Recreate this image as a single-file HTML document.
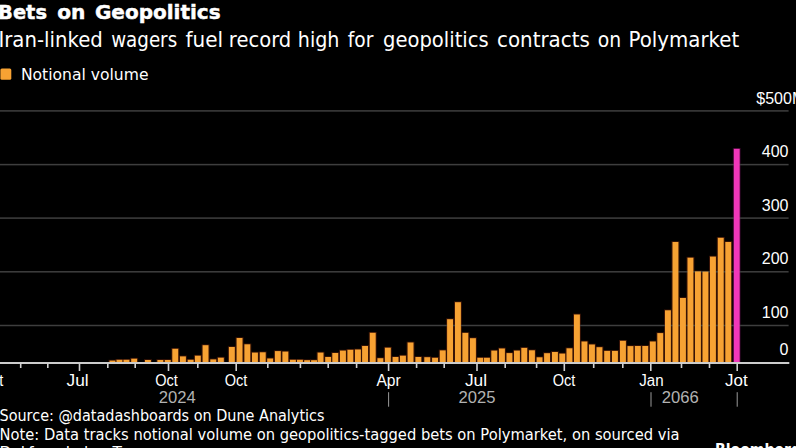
<!DOCTYPE html><html><head><meta charset="utf-8"><style>
html,body{margin:0;padding:0;background:#000;}
body{width:796px;height:448px;overflow:hidden;position:relative;}
svg{position:absolute;left:0;top:0;display:block;}
.t{font-family:"DejaVu Sans","Liberation Sans",sans-serif;fill:#fff;}
.l{font-family:"Liberation Sans","DejaVu Sans",sans-serif;fill:#fff;}
</style></head><body>
<svg width="796" height="448" viewBox="0 0 796 448">
<text class="t" x="-1.92" y="19.2" font-size="20.3" font-weight="bold" stroke="#fff" stroke-width="0.45" textLength="48.9" lengthAdjust="spacingAndGlyphs">Bets</text>
<text class="t" x="57.21" y="19.2" font-size="20.3" font-weight="bold" stroke="#fff" stroke-width="0.45" textLength="28.16" lengthAdjust="spacingAndGlyphs">on</text>
<text class="t" x="94.91" y="19.2" font-size="20.3" font-weight="bold" stroke="#fff" stroke-width="0.45" textLength="125.72" lengthAdjust="spacingAndGlyphs">Geopolitics</text>
<text class="t" x="-1.56" y="46.8" font-size="21.2" textLength="104.29" lengthAdjust="spacingAndGlyphs">Iran-linked</text>
<text class="t" x="111.14" y="46.8" font-size="21.2" textLength="66.03" lengthAdjust="spacingAndGlyphs">wagers</text>
<text class="t" x="185.5" y="46.8" font-size="21.2" textLength="37.61" lengthAdjust="spacingAndGlyphs">fuel</text>
<text class="t" x="228.86" y="46.8" font-size="21.2" textLength="62.4" lengthAdjust="spacingAndGlyphs">record</text>
<text class="t" x="297.8" y="46.8" font-size="21.2" textLength="41.69" lengthAdjust="spacingAndGlyphs">high</text>
<text class="t" x="347.8" y="46.8" font-size="21.2" textLength="25.64" lengthAdjust="spacingAndGlyphs">for</text>
<text class="t" x="382.98" y="46.8" font-size="21.2" textLength="105.7" lengthAdjust="spacingAndGlyphs">geopolitics</text>
<text class="t" x="496.96" y="46.8" font-size="21.2" textLength="92.92" lengthAdjust="spacingAndGlyphs">contracts</text>
<text class="t" x="597.81" y="46.8" font-size="21.2" textLength="23.44" lengthAdjust="spacingAndGlyphs">on</text>
<text class="t" x="628.53" y="46.8" font-size="21.2" textLength="110.7" lengthAdjust="spacingAndGlyphs">Polymarket</text>
<rect x="0.4" y="68.4" width="10.9" height="11.3" rx="1.5" fill="#f7a233"/>
<text class="t" x="20.9" y="80.1" font-size="16.2" textLength="127.6" lengthAdjust="spacingAndGlyphs">Notional volume</text>
<rect x="108.5" y="359.8" width="7.9" height="2.2" fill="#3a1406"/>
<rect x="115.5" y="359.0" width="7.9" height="3.0" fill="#3a1406"/>
<rect x="122.5" y="359.0" width="7.9" height="3.0" fill="#3a1406"/>
<rect x="130.2" y="357.9" width="7.9" height="4.1" fill="#3a1406"/>
<rect x="144.0" y="359.2" width="7.9" height="2.8" fill="#3a1406"/>
<rect x="156.4" y="359.2" width="7.9" height="2.8" fill="#3a1406"/>
<rect x="163.8" y="359.2" width="7.9" height="2.8" fill="#3a1406"/>
<rect x="171.3" y="348.0" width="7.9" height="14.0" fill="#3a1406"/>
<rect x="179.0" y="355.6" width="7.9" height="6.4" fill="#3a1406"/>
<rect x="186.7" y="359.0" width="7.9" height="3.0" fill="#3a1406"/>
<rect x="193.9" y="354.9" width="7.9" height="7.1" fill="#3a1406"/>
<rect x="201.6" y="344.4" width="7.9" height="17.6" fill="#3a1406"/>
<rect x="209.3" y="358.6" width="7.9" height="3.4" fill="#3a1406"/>
<rect x="216.9" y="356.9" width="7.9" height="5.1" fill="#3a1406"/>
<rect x="227.9" y="346.2" width="7.9" height="15.8" fill="#3a1406"/>
<rect x="235.6" y="337.2" width="7.9" height="24.8" fill="#3a1406"/>
<rect x="243.4" y="343.5" width="7.9" height="18.5" fill="#3a1406"/>
<rect x="251.0" y="351.8" width="7.9" height="10.2" fill="#3a1406"/>
<rect x="258.8" y="351.5" width="7.9" height="10.5" fill="#3a1406"/>
<rect x="266.2" y="357.7" width="7.9" height="4.3" fill="#3a1406"/>
<rect x="273.9" y="350.3" width="7.9" height="11.7" fill="#3a1406"/>
<rect x="281.4" y="350.8" width="7.9" height="11.2" fill="#3a1406"/>
<rect x="289.0" y="359.0" width="7.9" height="3.0" fill="#3a1406"/>
<rect x="296.0" y="359.0" width="7.9" height="3.0" fill="#3a1406"/>
<rect x="303.2" y="359.4" width="7.9" height="2.6" fill="#3a1406"/>
<rect x="310.1" y="359.4" width="7.9" height="2.6" fill="#3a1406"/>
<rect x="316.6" y="351.8" width="7.9" height="10.2" fill="#3a1406"/>
<rect x="324.2" y="356.2" width="7.9" height="5.8" fill="#3a1406"/>
<rect x="331.3" y="352.2" width="7.9" height="9.8" fill="#3a1406"/>
<rect x="339.0" y="349.8" width="7.9" height="12.2" fill="#3a1406"/>
<rect x="346.4" y="349.0" width="7.9" height="13.0" fill="#3a1406"/>
<rect x="354.0" y="348.7" width="7.9" height="13.3" fill="#3a1406"/>
<rect x="361.1" y="345.2" width="7.9" height="16.8" fill="#3a1406"/>
<rect x="368.8" y="332.0" width="7.9" height="30.0" fill="#3a1406"/>
<rect x="376.4" y="357.4" width="7.9" height="4.6" fill="#3a1406"/>
<rect x="383.9" y="346.9" width="7.9" height="15.1" fill="#3a1406"/>
<rect x="391.6" y="356.2" width="7.9" height="5.8" fill="#3a1406"/>
<rect x="399.0" y="354.9" width="7.9" height="7.1" fill="#3a1406"/>
<rect x="406.6" y="341.7" width="7.9" height="20.3" fill="#3a1406"/>
<rect x="414.4" y="356.2" width="7.9" height="5.8" fill="#3a1406"/>
<rect x="423.3" y="356.4" width="7.9" height="5.6" fill="#3a1406"/>
<rect x="431.1" y="357.0" width="7.9" height="5.0" fill="#3a1406"/>
<rect x="438.8" y="349.6" width="7.9" height="12.4" fill="#3a1406"/>
<rect x="446.1" y="318.4" width="7.9" height="43.6" fill="#3a1406"/>
<rect x="454.0" y="301.4" width="7.9" height="60.6" fill="#3a1406"/>
<rect x="461.4" y="332.1" width="7.9" height="29.9" fill="#3a1406"/>
<rect x="469.0" y="337.4" width="7.9" height="24.6" fill="#3a1406"/>
<rect x="476.3" y="357.0" width="7.9" height="5.0" fill="#3a1406"/>
<rect x="483.0" y="357.0" width="7.9" height="5.0" fill="#3a1406"/>
<rect x="490.3" y="349.8" width="7.9" height="12.2" fill="#3a1406"/>
<rect x="498.0" y="347.7" width="7.9" height="14.3" fill="#3a1406"/>
<rect x="505.5" y="352.3" width="7.9" height="9.7" fill="#3a1406"/>
<rect x="513.0" y="349.8" width="7.9" height="12.2" fill="#3a1406"/>
<rect x="520.3" y="347.1" width="7.9" height="14.9" fill="#3a1406"/>
<rect x="528.0" y="349.5" width="7.9" height="12.5" fill="#3a1406"/>
<rect x="535.6" y="356.5" width="7.9" height="5.5" fill="#3a1406"/>
<rect x="543.1" y="352.4" width="7.9" height="9.6" fill="#3a1406"/>
<rect x="551.0" y="351.2" width="7.9" height="10.8" fill="#3a1406"/>
<rect x="558.3" y="352.8" width="7.9" height="9.2" fill="#3a1406"/>
<rect x="565.5" y="347.5" width="7.9" height="14.5" fill="#3a1406"/>
<rect x="573.0" y="313.7" width="7.9" height="48.3" fill="#3a1406"/>
<rect x="580.5" y="340.7" width="7.9" height="21.3" fill="#3a1406"/>
<rect x="588.0" y="343.7" width="7.9" height="18.3" fill="#3a1406"/>
<rect x="595.5" y="346.4" width="7.9" height="15.6" fill="#3a1406"/>
<rect x="603.2" y="350.1" width="7.9" height="11.9" fill="#3a1406"/>
<rect x="611.0" y="350.1" width="7.9" height="11.9" fill="#3a1406"/>
<rect x="619.0" y="340.0" width="7.9" height="22.0" fill="#3a1406"/>
<rect x="626.5" y="345.3" width="7.9" height="16.7" fill="#3a1406"/>
<rect x="633.9" y="345.2" width="7.9" height="16.8" fill="#3a1406"/>
<rect x="641.3" y="345.2" width="7.9" height="16.8" fill="#3a1406"/>
<rect x="648.9" y="340.7" width="7.9" height="21.3" fill="#3a1406"/>
<rect x="656.3" y="332.3" width="7.9" height="29.7" fill="#3a1406"/>
<rect x="664.0" y="309.5" width="7.9" height="52.5" fill="#3a1406"/>
<rect x="671.5" y="241.2" width="7.9" height="120.8" fill="#3a1406"/>
<rect x="679.0" y="297.2" width="7.9" height="64.8" fill="#3a1406"/>
<rect x="686.5" y="256.9" width="7.9" height="105.1" fill="#3a1406"/>
<rect x="694.0" y="270.6" width="7.9" height="91.4" fill="#3a1406"/>
<rect x="701.5" y="270.8" width="7.9" height="91.2" fill="#3a1406"/>
<rect x="709.0" y="255.8" width="7.9" height="106.2" fill="#3a1406"/>
<rect x="716.8" y="237.0" width="7.9" height="125.0" fill="#3a1406"/>
<rect x="724.3" y="241.2" width="7.9" height="120.8" fill="#3a1406"/>
<rect x="732.8" y="148.0" width="7.9" height="214.0" fill="#300626"/>
<rect x="0" y="110.15" width="788.6" height="1.5" fill="#3e3e3e"/>
<rect x="0" y="163.85" width="788.6" height="1.5" fill="#3e3e3e"/>
<rect x="0" y="217.35" width="788.6" height="1.5" fill="#3e3e3e"/>
<rect x="0" y="271.05" width="788.6" height="1.5" fill="#3e3e3e"/>
<rect x="0" y="324.75" width="788.6" height="1.5" fill="#3e3e3e"/>
<rect x="109.5" y="360.6" width="5.9" height="1.4" fill="#f7a233"/>
<rect x="116.5" y="359.8" width="5.9" height="2.2" fill="#f7a233"/>
<rect x="123.5" y="359.8" width="5.9" height="2.2" fill="#f7a233"/>
<rect x="131.2" y="358.7" width="5.9" height="3.3" fill="#f7a233"/>
<rect x="145.0" y="360.0" width="5.9" height="2.0" fill="#f7a233"/>
<rect x="157.4" y="360.0" width="5.9" height="2.0" fill="#f7a233"/>
<rect x="164.8" y="360.0" width="5.9" height="2.0" fill="#f7a233"/>
<rect x="172.3" y="348.8" width="5.9" height="13.2" fill="#f7a233"/>
<rect x="180.0" y="356.4" width="5.9" height="5.6" fill="#f7a233"/>
<rect x="187.7" y="359.8" width="5.9" height="2.2" fill="#f7a233"/>
<rect x="194.9" y="355.7" width="5.9" height="6.3" fill="#f7a233"/>
<rect x="202.6" y="345.2" width="5.9" height="16.8" fill="#f7a233"/>
<rect x="210.3" y="359.4" width="5.9" height="2.6" fill="#f7a233"/>
<rect x="217.9" y="357.7" width="5.9" height="4.3" fill="#f7a233"/>
<rect x="228.9" y="347.0" width="5.9" height="15.0" fill="#f7a233"/>
<rect x="236.6" y="338.0" width="5.9" height="24.0" fill="#f7a233"/>
<rect x="244.4" y="344.3" width="5.9" height="17.7" fill="#f7a233"/>
<rect x="252.0" y="352.6" width="5.9" height="9.4" fill="#f7a233"/>
<rect x="259.8" y="352.3" width="5.9" height="9.7" fill="#f7a233"/>
<rect x="267.2" y="358.5" width="5.9" height="3.5" fill="#f7a233"/>
<rect x="274.9" y="351.1" width="5.9" height="10.9" fill="#f7a233"/>
<rect x="282.4" y="351.6" width="5.9" height="10.4" fill="#f7a233"/>
<rect x="290.0" y="359.8" width="5.9" height="2.2" fill="#f7a233"/>
<rect x="297.0" y="359.8" width="5.9" height="2.2" fill="#f7a233"/>
<rect x="304.2" y="360.2" width="5.9" height="1.8" fill="#f7a233"/>
<rect x="311.1" y="360.2" width="5.9" height="1.8" fill="#f7a233"/>
<rect x="317.6" y="352.6" width="5.9" height="9.4" fill="#f7a233"/>
<rect x="325.2" y="357.0" width="5.9" height="5.0" fill="#f7a233"/>
<rect x="332.3" y="353.0" width="5.9" height="9.0" fill="#f7a233"/>
<rect x="340.0" y="350.6" width="5.9" height="11.4" fill="#f7a233"/>
<rect x="347.4" y="349.8" width="5.9" height="12.2" fill="#f7a233"/>
<rect x="355.0" y="349.5" width="5.9" height="12.5" fill="#f7a233"/>
<rect x="362.1" y="346.0" width="5.9" height="16.0" fill="#f7a233"/>
<rect x="369.8" y="332.8" width="5.9" height="29.2" fill="#f7a233"/>
<rect x="377.4" y="358.2" width="5.9" height="3.8" fill="#f7a233"/>
<rect x="384.9" y="347.7" width="5.9" height="14.3" fill="#f7a233"/>
<rect x="392.6" y="357.0" width="5.9" height="5.0" fill="#f7a233"/>
<rect x="400.0" y="355.7" width="5.9" height="6.3" fill="#f7a233"/>
<rect x="407.6" y="342.5" width="5.9" height="19.5" fill="#f7a233"/>
<rect x="415.4" y="357.0" width="5.9" height="5.0" fill="#f7a233"/>
<rect x="424.3" y="357.2" width="5.9" height="4.8" fill="#f7a233"/>
<rect x="432.1" y="357.8" width="5.9" height="4.2" fill="#f7a233"/>
<rect x="439.8" y="350.4" width="5.9" height="11.6" fill="#f7a233"/>
<rect x="447.1" y="319.2" width="5.9" height="42.8" fill="#f7a233"/>
<rect x="455.0" y="302.2" width="5.9" height="59.8" fill="#f7a233"/>
<rect x="462.4" y="332.9" width="5.9" height="29.1" fill="#f7a233"/>
<rect x="470.0" y="338.2" width="5.9" height="23.8" fill="#f7a233"/>
<rect x="477.3" y="357.8" width="5.9" height="4.2" fill="#f7a233"/>
<rect x="484.0" y="357.8" width="5.9" height="4.2" fill="#f7a233"/>
<rect x="491.3" y="350.6" width="5.9" height="11.4" fill="#f7a233"/>
<rect x="499.0" y="348.5" width="5.9" height="13.5" fill="#f7a233"/>
<rect x="506.5" y="353.1" width="5.9" height="8.9" fill="#f7a233"/>
<rect x="514.0" y="350.6" width="5.9" height="11.4" fill="#f7a233"/>
<rect x="521.3" y="347.9" width="5.9" height="14.1" fill="#f7a233"/>
<rect x="529.0" y="350.3" width="5.9" height="11.7" fill="#f7a233"/>
<rect x="536.6" y="357.3" width="5.9" height="4.7" fill="#f7a233"/>
<rect x="544.1" y="353.2" width="5.9" height="8.8" fill="#f7a233"/>
<rect x="552.0" y="352.0" width="5.9" height="10.0" fill="#f7a233"/>
<rect x="559.3" y="353.6" width="5.9" height="8.4" fill="#f7a233"/>
<rect x="566.5" y="348.3" width="5.9" height="13.7" fill="#f7a233"/>
<rect x="574.0" y="314.5" width="5.9" height="47.5" fill="#f7a233"/>
<rect x="581.5" y="341.5" width="5.9" height="20.5" fill="#f7a233"/>
<rect x="589.0" y="344.5" width="5.9" height="17.5" fill="#f7a233"/>
<rect x="596.5" y="347.2" width="5.9" height="14.8" fill="#f7a233"/>
<rect x="604.2" y="350.9" width="5.9" height="11.1" fill="#f7a233"/>
<rect x="612.0" y="350.9" width="5.9" height="11.1" fill="#f7a233"/>
<rect x="620.0" y="340.8" width="5.9" height="21.2" fill="#f7a233"/>
<rect x="627.5" y="346.1" width="5.9" height="15.9" fill="#f7a233"/>
<rect x="634.9" y="346.0" width="5.9" height="16.0" fill="#f7a233"/>
<rect x="642.3" y="346.0" width="5.9" height="16.0" fill="#f7a233"/>
<rect x="649.9" y="341.5" width="5.9" height="20.5" fill="#f7a233"/>
<rect x="657.3" y="333.1" width="5.9" height="28.9" fill="#f7a233"/>
<rect x="665.0" y="310.3" width="5.9" height="51.7" fill="#f7a233"/>
<rect x="672.5" y="242.0" width="5.9" height="120.0" fill="#f7a233"/>
<rect x="680.0" y="298.0" width="5.9" height="64.0" fill="#f7a233"/>
<rect x="687.5" y="257.7" width="5.9" height="104.3" fill="#f7a233"/>
<rect x="695.0" y="271.4" width="5.9" height="90.6" fill="#f7a233"/>
<rect x="702.5" y="271.6" width="5.9" height="90.4" fill="#f7a233"/>
<rect x="710.0" y="256.6" width="5.9" height="105.4" fill="#f7a233"/>
<rect x="717.8" y="237.8" width="5.9" height="124.2" fill="#f7a233"/>
<rect x="725.3" y="242.0" width="5.9" height="120.0" fill="#f7a233"/>
<rect x="733.8" y="148.8" width="5.9" height="213.2" fill="#f037b9"/>
<rect x="0" y="362" width="789.3" height="2" fill="#fff" fill-opacity="0.8"/>
<rect x="19.9" y="363" width="1.6" height="5" fill="#d0d0d0"/>
<rect x="47.0" y="363" width="1.6" height="5" fill="#d0d0d0"/>
<rect x="107.0" y="363" width="1.6" height="5" fill="#d0d0d0"/>
<rect x="134.4" y="363" width="1.6" height="5" fill="#d0d0d0"/>
<rect x="197.0" y="363" width="1.6" height="5" fill="#d0d0d0"/>
<rect x="267.0" y="363" width="1.6" height="5" fill="#d0d0d0"/>
<rect x="299.6" y="363" width="1.6" height="5" fill="#d0d0d0"/>
<rect x="327.4" y="363" width="1.6" height="5" fill="#d0d0d0"/>
<rect x="355.8" y="363" width="1.6" height="5" fill="#d0d0d0"/>
<rect x="415.8" y="363" width="1.6" height="5" fill="#d0d0d0"/>
<rect x="443.4" y="363" width="1.6" height="5" fill="#d0d0d0"/>
<rect x="504.4" y="363" width="1.6" height="5" fill="#d0d0d0"/>
<rect x="535.8" y="363" width="1.6" height="5" fill="#d0d0d0"/>
<rect x="592.9" y="363" width="1.6" height="5" fill="#d0d0d0"/>
<rect x="622.0" y="363" width="1.6" height="5" fill="#d0d0d0"/>
<rect x="680.7" y="363" width="1.6" height="5" fill="#d0d0d0"/>
<rect x="708.7" y="363" width="1.6" height="5" fill="#d0d0d0"/>
<rect x="78.7" y="363" width="1.6" height="8" fill="#d0d0d0"/>
<rect x="167.7" y="363" width="1.6" height="8" fill="#d0d0d0"/>
<rect x="235.4" y="363" width="1.6" height="8" fill="#d0d0d0"/>
<rect x="387.8" y="363" width="1.6" height="8" fill="#d0d0d0"/>
<rect x="476.2" y="363" width="1.6" height="8" fill="#d0d0d0"/>
<rect x="563.5" y="363" width="1.6" height="8" fill="#d0d0d0"/>
<rect x="650.0" y="363" width="1.6" height="8" fill="#d0d0d0"/>
<rect x="736.4" y="363" width="1.6" height="8" fill="#d0d0d0"/>
<text class="l" x="-8.0" y="386.3" font-size="15.8" text-anchor="middle" textLength="22.6" lengthAdjust="spacingAndGlyphs">Oct</text>
<text class="l" x="77.6" y="386.3" font-size="15.8" text-anchor="middle" textLength="22.1" lengthAdjust="spacingAndGlyphs">Jul</text>
<text class="l" x="166.6" y="386.3" font-size="15.8" text-anchor="middle" textLength="22.6" lengthAdjust="spacingAndGlyphs">Oct</text>
<text class="l" x="236.0" y="386.3" font-size="15.8" text-anchor="middle" textLength="22.6" lengthAdjust="spacingAndGlyphs">Oct</text>
<text class="l" x="388.6" y="386.3" font-size="15.8" text-anchor="middle" textLength="24.3" lengthAdjust="spacingAndGlyphs">Apr</text>
<text class="l" x="476.0" y="386.3" font-size="15.8" text-anchor="middle" textLength="22.1" lengthAdjust="spacingAndGlyphs">Jul</text>
<text class="l" x="564.0" y="386.3" font-size="15.8" text-anchor="middle" textLength="22.6" lengthAdjust="spacingAndGlyphs">Oct</text>
<text class="l" x="651.5" y="386.3" font-size="15.8" text-anchor="middle" textLength="24.4" lengthAdjust="spacingAndGlyphs">Jan</text>
<text class="l" x="736.4" y="386.3" font-size="15.8" text-anchor="middle" textLength="22.6" lengthAdjust="spacingAndGlyphs">Jot</text>
<text class="l" x="177.3" y="403.1" font-size="15.8" text-anchor="middle" textLength="37" lengthAdjust="spacingAndGlyphs" style="fill:#b2b2b2">2024</text>
<text class="l" x="477.0" y="403.1" font-size="15.8" text-anchor="middle" textLength="37" lengthAdjust="spacingAndGlyphs" style="fill:#b2b2b2">2025</text>
<text class="l" x="680.2" y="403.1" font-size="15.8" text-anchor="middle" textLength="37" lengthAdjust="spacingAndGlyphs" style="fill:#b2b2b2">2066</text>
<rect x="388.1" y="392.2" width="1.0" height="14.5" fill="#9a9a9a"/>
<rect x="650.5" y="392.2" width="1.0" height="14.5" fill="#9a9a9a"/>
<rect x="736.7" y="392.2" width="1.0" height="14.5" fill="#9a9a9a"/>
<text class="l" x="756.3" y="103.6" font-size="16">$500M</text>
<text class="l" x="788.5" y="157.0" font-size="16" text-anchor="end">400</text>
<text class="l" x="788.5" y="210.6" font-size="16" text-anchor="end">300</text>
<text class="l" x="788.5" y="264.2" font-size="16" text-anchor="end">200</text>
<text class="l" x="788.5" y="318.0" font-size="16" text-anchor="end">100</text>
<text class="l" x="788.5" y="354.6" font-size="16" text-anchor="end">0</text>
<text class="t" x="-0.5" y="421.4" font-size="15" textLength="325" lengthAdjust="spacingAndGlyphs">Source: @datadashboards on Dune Analytics</text>
<text class="t" x="-0.5" y="440.2" font-size="15.3" textLength="680" lengthAdjust="spacingAndGlyphs">Note: Data tracks notional volume on geopolitics-tagged bets on Polymarket, on sourced via</text>
<text class="t" y="457.8" font-size="15.3"><tspan x="-0.5">Dal</tspan> <tspan x="28.2">fee</tspan> <tspan x="56.5">al</tspan> <tspan x="74.5">el</tspan> <tspan x="112.5">Too</tspan></text>
<text class="t" x="715" y="454.6" font-size="15" font-weight="bold" textLength="86" lengthAdjust="spacingAndGlyphs">Bloomberg</text>
</svg></body></html>
